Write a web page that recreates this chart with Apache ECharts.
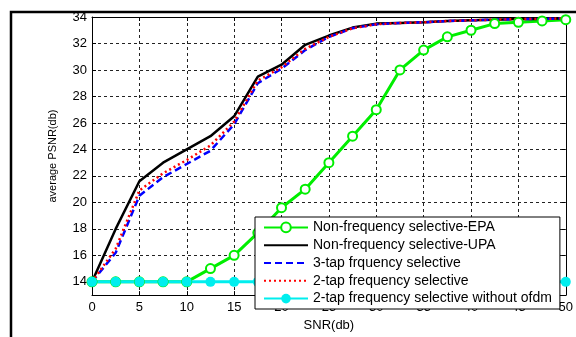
<!DOCTYPE html>
<html>
<head>
<meta charset="utf-8">
<script src="https://cdn.jsdelivr.net/npm/echarts@6/dist/echarts.min.js"></script>
<style>
  html, body { margin: 0; padding: 0; background: #ffffff; }
  #chart { width: 576px; height: 337px; }
</style>
</head>
<body>
<div id="chart"></div>
<script>
// SNR values (db)
var snr = [0, 2.5, 5, 7.5, 10, 12.5, 15, 17.5, 20, 22.5, 25, 27.5, 30, 32.5, 35, 37.5, 40, 42.5, 45, 47.5, 50];
var nonSelEPA = [14, 14, 14, 14, 14, 15, 16, 17.7, 19.6, 21, 23, 25, 27, 30, 31.5, 32.5, 33, 33.5, 33.6, 33.7, 33.8];
var nonSelUPA = [14, 18, 21.6, 23, 24, 25, 26.5, 29.5, 30.4, 31.9, 32.6, 33.2, 33.5, 33.55, 33.6, 33.7, 33.75, 33.8, 33.85, 33.85, 33.9];
var tap3Sel = [14, 16.2, 20.5, 21.9, 22.9, 23.9, 25.9, 29, 30.1, 31.5, 32.5, 33.15, 33.45, 33.55, 33.6, 33.7, 33.75, 33.8, 33.85, 33.85, 33.9];
var tap2Sel = [14, 16.5, 20.9, 22.2, 23.2, 24.3, 26.1, 29.2, 30.2, 31.6, 32.5, 33.15, 33.45, 33.55, 33.6, 33.7, 33.75, 33.8, 33.85, 33.85, 33.9];
var tap2NoOfdm = [14, 14, 14, 14, 14, 14, 14, 14, 14, 14, 14, 14, 14, 14, 14, 14, 14, 14, 14, 14, 14];
var names = [
  'Non-frequency selective-EPA',
  'Non-frequency selective-UPA',
  '3-tap frquency selective',
  '2-tap frequency selective',
  '2-tap frequency selective without ofdm'
];
var yTicks = [14, 16, 18, 20, 22, 24, 26, 28, 30, 32, 34];

var font = "'Liberation Sans', Arial, sans-serif";
var chart = echarts.init(document.getElementById('chart'));

function pairs(ys) {
  return snr.map(function (x, i) { return [x, ys[i]]; });
}

var gridDash = { show: true, lineStyle: { color: '#222', width: 1, type: [3, 3] } };
var tick = { show: true, inside: true, length: 4, lineStyle: { color: '#000' } };
var line = { show: true, onZero: false, lineStyle: { color: '#000', width: 1 } };

// legend entries; plain lines get no marker in the key
var legendData = names.map(function (n, i) {
  var plain = i >= 1 && i <= 3;
  return plain ? { name: n, itemStyle: { opacity: 0 } } : { name: n };
});

var option = {
  animation: false,
  backgroundColor: '#ffffff',
  textStyle: { fontFamily: font },
  graphic: [{
    type: 'polyline',
    shape: { points: [[11, 340], [11, 12], [580, 12]] },
    style: { stroke: '#000', lineWidth: 2.5, fill: null }
  }],
  grid: { left: 92, right: 3, top: 17, bottom: 32.5 },
  legend: {
    orient: 'vertical',
    left: 255,
    top: 217,
    data: legendData,
    itemWidth: 44,
    itemHeight: 12,
    itemGap: 3.8,
    padding: [3.4, 8, 3.4, 8],
    backgroundColor: '#ffffff',
    borderColor: '#000',
    borderWidth: 1,
    borderRadius: 0,
    textStyle: { fontSize: 14, color: '#000', fontFamily: font },
    z: 10
  },
  xAxis: [{
    type: 'value',
    position: 'bottom',
    min: 0, max: 50, interval: 5,
    name: 'SNR(db)',
    nameLocation: 'middle',
    nameGap: 17,
    nameTextStyle: { fontSize: 13, color: '#000', fontFamily: font },
    axisLine: line,
    axisTick: tick,
    axisLabel: { fontSize: 13, color: '#000', margin: 6, fontFamily: font },
    splitLine: gridDash
  }, {
    type: 'value',
    position: 'top',
    min: 0, max: 50, interval: 5,
    axisLine: line,
    axisTick: tick,
    axisLabel: { show: false },
    splitLine: { show: false }
  }],
  yAxis: [{
    type: 'value',
    position: 'left',
    min: 13, max: 34,
    name: 'average PSNR(db)',
    nameLocation: 'middle',
    nameGap: 34,
    nameTextStyle: { fontSize: 11, color: '#000', fontFamily: font },
    axisLine: line,
    axisTick: { show: true, inside: true, length: 4, lineStyle: { color: '#000' }, customValues: yTicks },
    axisLabel: { fontSize: 13, color: '#000', margin: 5, fontFamily: font, customValues: yTicks },
    splitLine: gridDash
  }, {
    type: 'value',
    position: 'right',
    min: 13, max: 34,
    axisLine: line,
    axisTick: { show: true, inside: true, length: 4, lineStyle: { color: '#000' }, customValues: yTicks },
    axisLabel: { show: false },
    splitLine: { show: false }
  }],
  series: [{
    name: names[0],
    type: 'line',
    data: pairs(nonSelEPA),
    symbol: 'emptyCircle',
    symbolSize: 9,
    itemStyle: { color: '#00ee00', borderColor: '#00ee00', borderWidth: 2.5 },
    lineStyle: { color: '#00ee00', width: 3 }
  }, {
    name: names[1],
    type: 'line',
    data: pairs(nonSelUPA),
    symbol: 'none',
    itemStyle: { color: '#000' },
    lineStyle: { color: '#000', width: 2.5 }
  }, {
    name: names[2],
    type: 'line',
    data: pairs(tap3Sel),
    symbol: 'none',
    itemStyle: { color: '#0000ff' },
    lineStyle: { color: '#0000ff', width: 2.5, type: [7, 4] }
  }, {
    name: names[3],
    type: 'line',
    data: pairs(tap2Sel),
    symbol: 'none',
    itemStyle: { color: '#ff0000' },
    lineStyle: { color: '#ff0000', width: 2.5, type: [2, 3] }
  }, {
    name: names[4],
    type: 'line',
    data: pairs(tap2NoOfdm),
    symbol: 'circle',
    symbolSize: 10,
    itemStyle: { color: '#00eeee' },
    lineStyle: { color: '#00eeee', width: 3 }
  }]
};
chart.setOption(option);
</script>
</body>
</html>
